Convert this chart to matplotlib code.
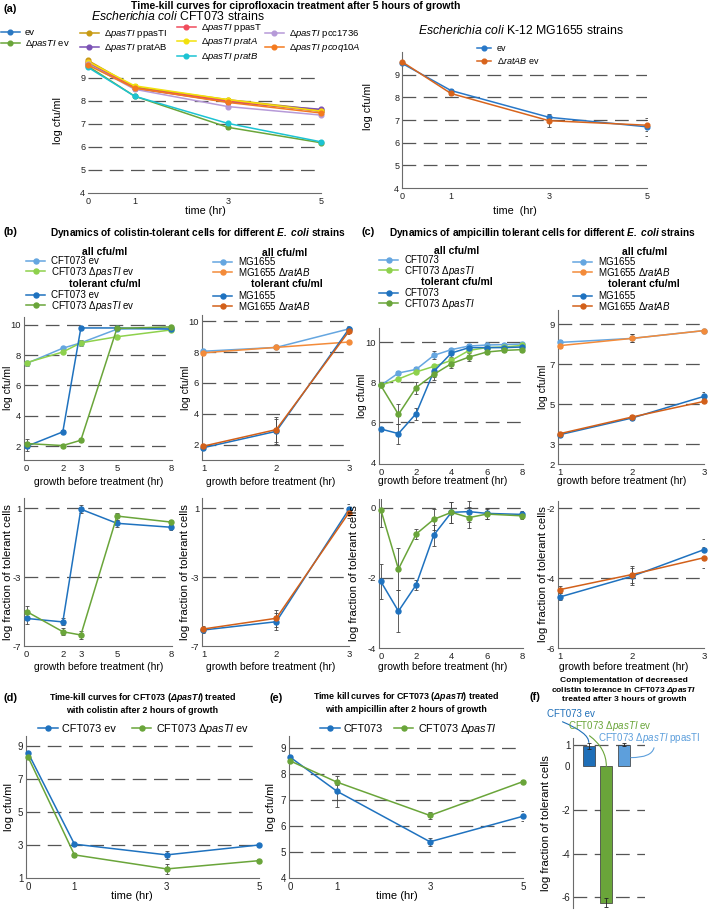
import matplotlib
matplotlib.use('Agg')
import matplotlib.pyplot as plt

plt.rcParams['font.family'] = ['Liberation Sans', 'DejaVu Sans']
plt.rcParams['mathtext.fontset'] = 'custom'
plt.rcParams['mathtext.rm'] = 'Liberation Sans'
plt.rcParams['mathtext.it'] = 'Liberation Sans:italic'
plt.rcParams['mathtext.bf'] = 'Liberation Sans:bold'
plt.rcParams['mathtext.bfit'] = 'Liberation Sans:italic:bold'
plt.rcParams['axes.unicode_minus'] = False

W, H = 709, 911

# ---- (a) ciprofloxacin time-kill, CFT073 strains
cip_time = [0, 1, 3, 5]
cip_ev = [9.6, 8.55, 8.0, 7.55]
cip_dpasTI_ev = [9.5, 8.2, 6.85, 6.18]
cip_ppasTI = [9.75, 8.6, 8.05, 7.6]
cip_pratAB = [9.65, 8.55, 7.95, 7.63]
cip_ppasT = [9.7, 8.55, 8.0, 7.55]
cip_pratA = [9.7, 8.65, 8.05, 7.55]
cip_pratB = [9.45, 8.2, 7.02, 6.22]
cip_pcc1736 = [9.6, 8.5, 7.75, 7.38]
cip_pcoq10A = [9.55, 8.55, 7.93, 7.47]
# (a) MG1655 strains
cip_mg_ev = [9.5, 8.3, 7.12, 6.7]
cip_mg_ev_err = [0.05, 0.05, 0.05, 0.4]
cip_mg_ratAB = [9.57, 8.17, 6.97, 6.77]
cip_mg_ratAB_err = [0.05, 0.08, 0.3, 0.25]

# ---- (b) colistin
col_cft_hr = [0, 2, 3, 5, 8]
col_cft_all_ev = [7.45, 8.45, 8.8, 9.7, 9.75]
col_cft_all_dp = [7.5, 8.2, 8.8, 9.2, 9.65]
col_cft_tol_ev = [2.0, 2.95, 9.78, 9.78, 9.7]
col_cft_tol_dp = [2.18, 2.05, 2.4, 9.75, 9.85]
col_cft_tol_err = [0.3, 0.1, 0.1, 0.1, 0.15]
col_cft_frac_ev = [-5.4, -5.6, 0.95, 0.13, -0.1]
col_cft_frac_dp = [-5.0, -6.17, -6.36, 0.55, 0.2]
col_cft_frac_err = [0.3, 0.2, 0.25, 0.2, 0.15]
col_mg_hr = [1, 2, 3]
col_mg_all_wt = [8.05, 8.3, 9.5]
col_mg_all_rat = [7.95, 8.3, 8.65]
col_mg_tol_wt = [1.8, 2.86, 9.5]
col_mg_tol_rat = [1.9, 2.97, 9.35]
col_mg_tol_err = [0.1, 0.8, 0.2]
col_mg_frac_wt = [-6.07, -5.59, 0.95]
col_mg_frac_rat = [-6.01, -5.39, 0.75]
col_mg_frac_err = [0.2, 0.5, 0.3]

# ---- (c) ampicillin
amp_cft_hr = [0, 1, 2, 3, 4, 5, 6, 7, 8]
amp_cft_all_wt = [7.83, 8.45, 8.63, 9.33, 9.62, 9.8, 9.85, 9.87, 9.9]
amp_cft_all_dp = [7.83, 8.15, 8.5, 8.78, 9.08, 9.58, 9.72, 9.75, 9.83]
amp_cft_tol_wt = [5.65, 5.42, 6.42, 8.53, 9.45, 9.72, 9.72, 9.72, 9.75]
amp_cft_tol_dp = [7.83, 6.38, 7.72, 8.38, 8.92, 9.25, 9.5, 9.58, 9.62]
amp_cft_tol_err = [0.1, 0.5, 0.3, 0.3, 0.2, 0.2, 0.1, 0.1, 0.1]
amp_frac_hr = [0, 1, 2, 3, 4, 5, 6, 8]
amp_cft_frac_wt = [-2.1, -2.95, -2.2, -0.78, -0.13, -0.11, -0.16, -0.19]
amp_cft_frac_dp = [-0.05, -1.75, -0.75, -0.33, -0.13, -0.28, -0.18, -0.23]
amp_cft_frac_err = [0.5, 0.6, 0.15, 0.3, 0.3, 0.3, 0.15, 0.1]
amp_mg_hr = [1, 2, 3]
amp_mg_all_wt = [8.08, 8.28, 8.67]
amp_mg_all_rat = [7.92, 8.28, 8.67]
amp_mg_tol_wt = [3.47, 4.3, 5.38]
amp_mg_tol_rat = [3.52, 4.35, 5.13]
amp_mg_frac_wt = [-4.54, -3.95, -3.19]
amp_mg_frac_rat = [-4.33, -3.9, -3.42]
amp_mg_frac_err = [0.1, 0.25, 0.3]

# ---- (d) colistin time-kill after 2 h
cst_time = [0, 1, 3, 5]
cst_ev = [8.55, 3.05, 2.4, 3.0]
cst_ev_err = [0.05, 0.1, 0.25, 0.05]
cst_dp = [8.3, 2.4, 1.55, 2.05]
cst_dp_err = [0.05, 0.1, 0.3, 0.1]

# ---- (e) ampicillin time-kill after 2 h
amk_time = [0, 1, 3, 5]
amk_wt = [8.63, 7.33, 5.39, 6.37]
amk_wt_err = [0.05, 0.6, 0.15, 0.2]
amk_dp = [8.49, 7.68, 6.4, 7.7]
amk_dp_err = [0.05, 0.1, 0.15, 0.05]

# ---- (f) complementation
comp_vals = [0.93, -6.25, 1.0]
comp_err = [0.12, 0.22, 0.05]

DP = r'$\mathit{ΔpasTI}$'
BLUE = '#1f72bf'
GREEN = '#6aa53a'
LBLUE = '#65a6e0'
LGREEN = '#8ed14c'
DORANGE = '#d2601a'
LORANGE = '#f38b3a'
GRID = '#555555'
AXC = '#6b6b6b'
ERR = '#444444'

fig = plt.figure(figsize=(W / 100, H / 100), dpi=100)


def px_ax(l, t, r, b):
    return fig.add_axes([l / W, 1 - b / H, (r - l) / W, (b - t) / H])


def fx(x):
    return x / W


def fy(y):
    return 1 - y / H


def frame(ax, xlim, ylim, xticks, yticks, grid, size=6.8, left=True):
    ax.set_xlim(*xlim)
    ax.set_ylim(*ylim)
    ax.set_xticks(xticks)
    ax.set_yticks(yticks)
    ax.set_yticklabels([f'{v:g}' for v in yticks])
    for g in grid:
        ax.axhline(g, color=GRID, lw=0.9, ls=(0, (11, 6)), zorder=0)
    for s in ['top', 'right']:
        ax.spines[s].set_visible(False)
    for s in ['left', 'bottom']:
        ax.spines[s].set_color(AXC)
        ax.spines[s].set_linewidth(0.8)
    ax.spines['left'].set_visible(left)
    ax.tick_params(length=0, labelsize=size, colors='#222222')
    ax.tick_params(axis='y', pad=2)
    ax.tick_params(axis='x', pad=3)
    ax.patch.set_alpha(0)


def labels(ax, xl, xpos, yl, ypos, size=7.5, ysize=None):
    if xl:
        ax.set_xlabel(xl, fontsize=size)
        ax.xaxis.set_label_coords(fx(xpos[0]), fy(xpos[1]), transform=fig.transFigure)
    if yl:
        ax.set_ylabel(yl, fontsize=ysize or size)
        ax.yaxis.set_label_coords(fx(ypos[0]), fy(ypos[1]), transform=fig.transFigure)
        ax.yaxis.label.set_va('center')


def curve(ax, x, y, color, err=None, lw=1.1, ms=3.6):
    if err is not None:
        ax.errorbar(x, y, yerr=err, fmt='none', ecolor=ERR, elinewidth=0.6,
                    capsize=1.4, capthick=0.6, zorder=2)
    line, = ax.plot(x, y, color=color, lw=lw, marker='o', ms=ms, clip_on=False, zorder=3)
    return line


def key(handles, texts, x, y, size=7.0, ncol=1, hl=2.0, pad=0.6, sp=-0.12, colsp=1.0):
    return fig.legend(handles, texts, loc='upper left', bbox_to_anchor=(fx(x), fy(y)),
                      frameon=False, fontsize=size, handlelength=hl, handletextpad=pad,
                      labelspacing=sp, borderpad=0, borderaxespad=0, ncol=ncol,
                      columnspacing=colsp)


# ================= (a) =================
fig.text(fx(3), fy(9), '(a)', fontsize=7.8, weight='bold', va='center')
fig.text(fx(296), fy(6), 'Time-kill curves for ciprofloxacin treatment after 5 hours of growth',
         fontsize=7.5, weight='bold', ha='center', va='center')
fig.text(fx(178), fy(16), r'$\mathit{Escherichia\ coli}$ CFT073 strains', fontsize=8.8,
         ha='center', va='center')
fig.text(fx(521), fy(31), r'$\mathit{Escherichia\ coli}$ K-12 MG1655 strains', fontsize=8.8,
         ha='center', va='center')

ax = px_ax(88, 57, 321, 193)
frame(ax, (0, 5), (4, 9.9), [0, 1, 3, 5], [4, 5, 6, 7, 8, 9], [5, 6, 7, 8, 9], size=6.5, left=False)
labels(ax, 'time (hr)', (205, 206), 'log cfu/ml', (58, 121), size=7.8)
series = [(cip_ev, '#2a78c2'), (cip_dpasTI_ev, '#6aa53a'), (cip_ppasTI, '#c89b12'),
          (cip_pratAB, '#7b52b5'), (cip_ppasT, '#f04c5c'), (cip_pratA, '#f2e10c'),
          (cip_pratB, '#1cc3d3'), (cip_pcc1736, '#b69ad8'), (cip_pcoq10A, '#f47a1f')]
h = [curve(ax, cip_time, s, c, err=[0.05, 0.08, 0.06, 0.06], ms=3.4) for s, c in series]
key(h[0:2], ['ev', DP + ' ev'], 1, 28, size=6.8, hl=2.0, sp=0.15, pad=0.5)
key(h[2:4], [DP + ' ppasTI', DP + ' pratAB'], 80, 28, size=6.8, hl=2.0, sp=0.15, pad=0.5)
key(h[4:7], [DP + ' ppasT', DP + r' $\mathit{pratA}$', DP + r' $\mathit{pratB}$'], 177, 22,
    size=6.8, hl=2.0, sp=0.15, pad=0.5)
key(h[7:9], [DP + ' pcc1736', DP + r' $\mathit{pcoq10A}$'], 265, 28, size=6.8, hl=2.0,
    sp=0.15, pad=0.5)

ax = px_ax(402, 52, 647, 188)
frame(ax, (0, 5), (4, 10), [0, 1, 3, 5], [4, 5, 6, 7, 8, 9], [5, 6, 7, 8, 9], size=6.5)
labels(ax, 'time  (hr)', (515, 206), 'log cfu/ml', (368, 107), size=7.8)
h1 = curve(ax, cip_time, cip_mg_ev, '#2878c8', err=cip_mg_ev_err, ms=3.4)
h2 = curve(ax, cip_time, cip_mg_ratAB, '#d8641c', err=cip_mg_ratAB_err, ms=3.4)
key([h1, h2], ['ev', r'$\mathit{ΔratAB}$ ev'], 477, 44, size=6.5, hl=1.6, sp=0.2)

# ================= (b) =================
fig.text(fx(3), fy(232), '(b)', fontsize=7.8, weight='bold', va='center')
fig.text(fx(198), fy(233), r'Dynamics of colistin-tolerant cells for different $\mathbfit{E.\ coli}$ strains',
         fontsize=7.3, weight='bold', ha='center', va='center')
XB = 'growth before treatment (hr)'
FR = 'log fraction of tolerant cells'

# left top
ax = px_ax(24, 317, 172, 460)
frame(ax, (-0.15, 8.05), (1.1, 10.5), col_cft_hr, [2, 4, 6, 8, 10], [2, 4, 6, 8, 10])
labels(ax, XB, (99, 477), 'log cfu/ml', (8, 388))
ha = curve(ax, col_cft_hr, col_cft_all_ev, LBLUE, err=[0.15, 0.1, 0.2, 0.1, 0.1])
hb = curve(ax, col_cft_hr, col_cft_all_dp, LGREEN)
hc = curve(ax, col_cft_hr, col_cft_tol_ev, BLUE, err=col_cft_tol_err)
hd = curve(ax, col_cft_hr, col_cft_tol_dp, GREEN, err=col_cft_tol_err)
fig.text(fx(105), fy(252), 'all cfu/ml', fontsize=7.5, weight='bold', ha='center', va='center')
fig.text(fx(105), fy(284), 'tolerant cfu/ml', fontsize=7.5, weight='bold', ha='center', va='center')
key([ha, hb], ['CFT073 ev', 'CFT073 ' + DP + ' ev'], 26, 256)
key([hc, hd], ['CFT073 ev', 'CFT073 ' + DP + ' ev'], 26, 290)

# left bottom
ax = px_ax(24, 498, 172, 646)
frame(ax, (-0.15, 8.05), (-7, 1.6), col_cft_hr, [-7, -3, 1], [-3, 1])
labels(ax, XB, (99, 662), FR, (8, 572), ysize=8.2)
curve(ax, col_cft_hr, col_cft_frac_ev, BLUE, err=col_cft_frac_err)
curve(ax, col_cft_hr, col_cft_frac_dp, GREEN, err=col_cft_frac_err)

# right top
ax = px_ax(202, 315, 349, 460)
frame(ax, (0.98, 3.0), (1.0, 10.4), col_mg_hr, [2, 4, 6, 8, 10], [2, 4, 6, 8, 10])
labels(ax, XB, (271, 477), 'log cfu/ml', (186, 388))
ha = curve(ax, col_mg_hr, col_mg_all_wt, LBLUE, err=[0.1, 0.1, 0.1])
hb = curve(ax, col_mg_hr, col_mg_all_rat, LORANGE, err=[0.1, 0.1, 0.05])
hc = curve(ax, col_mg_hr, col_mg_tol_wt, BLUE, err=col_mg_tol_err)
hd = curve(ax, col_mg_hr, col_mg_tol_rat, DORANGE, err=col_mg_tol_err)
fig.text(fx(285), fy(253), 'all cfu/ml', fontsize=7.5, weight='bold', ha='center', va='center')
fig.text(fx(287), fy(284), 'tolerant cfu/ml', fontsize=7.5, weight='bold', ha='center', va='center')
key([ha, hb], ['MG1655', r'MG1655 $\mathit{ΔratAB}$'], 213, 257)
key([hc, hd], ['MG1655', r'MG1655 $\mathit{ΔratAB}$'], 213, 291)

# right bottom
ax = px_ax(202, 498, 349, 646)
frame(ax, (0.98, 3.0), (-7, 1.6), col_mg_hr, [-7, -3, 1], [-3, 1])
labels(ax, XB, (271, 662), FR, (185, 572), ysize=8.2)
curve(ax, col_mg_hr, col_mg_frac_wt, BLUE, err=col_mg_frac_err)
curve(ax, col_mg_hr, col_mg_frac_rat, DORANGE, err=col_mg_frac_err)

# ================= (c) =================
fig.text(fx(362), fy(232), '(c)', fontsize=7.8, weight='bold', va='center')
fig.text(fx(542), fy(233), r'Dynamics of ampicillin tolerant cells for different $\mathbfit{E.\ coli}$ strains',
         fontsize=7.3, weight='bold', ha='center', va='center')

ax = px_ax(379, 328, 523, 464)
frame(ax, (-0.1, 8.05), (3.9, 10.7), [0, 2, 4, 6, 8], [4, 6, 8, 10], [6, 8, 10])
labels(ax, XB, (443, 476), 'log cfu/ml', (362, 396))
ha = curve(ax, amp_cft_hr, amp_cft_all_wt, LBLUE, err=[0.1, 0.1, 0.1, 0.2, 0.1, 0.1, 0.1, 0.1, 0.1])
hb = curve(ax, amp_cft_hr, amp_cft_all_dp, LGREEN)
hc = curve(ax, amp_cft_hr, amp_cft_tol_wt, BLUE, err=amp_cft_tol_err)
hd = curve(ax, amp_cft_hr, amp_cft_tol_dp, GREEN, err=amp_cft_tol_err)
fig.text(fx(457), fy(251), 'all cfu/ml', fontsize=7.5, weight='bold', ha='center', va='center')
fig.text(fx(457), fy(282), 'tolerant cfu/ml', fontsize=7.5, weight='bold', ha='center', va='center')
key([ha, hb], ['CFT073', 'CFT073 ' + DP], 379, 255)
key([hc, hd], ['CFT073', 'CFT073 ' + DP], 379, 288)

ax = px_ax(379, 499, 523, 648)
frame(ax, (-0.1, 8.05), (-4, 0.25), [0, 2, 4, 6, 8], [-4, -2, 0], [-2, 0])
labels(ax, XB, (443, 662), FR, (354, 573), ysize=8.2)
curve(ax, amp_frac_hr, amp_cft_frac_wt, BLUE, err=amp_cft_frac_err)
curve(ax, amp_frac_hr, amp_cft_frac_dp, GREEN, err=amp_cft_frac_err)

ax = px_ax(558, 310, 704, 464)
frame(ax, (0.97, 3.0), (2, 9.7), amp_mg_hr, [2, 3, 5, 7, 9], [3, 5, 7, 9])
labels(ax, XB, (622, 476), 'log cfu/ml', (543, 387))
ha = curve(ax, amp_mg_hr, amp_mg_all_wt, LBLUE, err=[0.1, 0.2, 0.05])
hb = curve(ax, amp_mg_hr, amp_mg_all_rat, LORANGE, err=[0.1, 0.2, 0.05])
hc = curve(ax, amp_mg_hr, amp_mg_tol_wt, BLUE, err=[0.1, 0.1, 0.2])
hd = curve(ax, amp_mg_hr, amp_mg_tol_rat, DORANGE, err=[0.1, 0.1, 0.1])
fig.text(fx(645), fy(252), 'all cfu/ml', fontsize=7.5, weight='bold', ha='center', va='center')
fig.text(fx(644), fy(284), 'tolerant cfu/ml', fontsize=7.5, weight='bold', ha='center', va='center')
key([ha, hb], ['MG1655', r'MG1655 $\mathit{ΔratAB}$'], 573, 257)
key([hc, hd], ['MG1655', r'MG1655 $\mathit{ΔratAB}$'], 573, 291)

ax = px_ax(558, 501, 704, 648)
frame(ax, (0.97, 3.0), (-6, -1.8), amp_mg_hr, [-6, -4, -2], [-4, -2])
labels(ax, XB, (624, 662), FR, (543, 574), ysize=8.2)
curve(ax, amp_mg_hr, amp_mg_frac_wt, BLUE, err=amp_mg_frac_err)
curve(ax, amp_mg_hr, amp_mg_frac_rat, DORANGE, err=amp_mg_frac_err)

# ================= (d) =================
fig.text(fx(3), fy(698), '(d)', fontsize=7.8, weight='bold', va='center')
fig.text(fx(142), fy(703),
         'Time-kill curves for CFT073 (' + r'$\mathbfit{ΔpasTI}$' + ') treated\nwith colistin after 2 hours of growth',
         fontsize=6.4, weight='bold', ha='center', va='center', linespacing=1.3)
ax = px_ax(26, 736, 259, 878)
frame(ax, (-0.05, 5.0), (1, 9.6), cst_time, [1, 3, 5, 7, 9], [3, 5, 7, 9], size=7)
labels(ax, 'time (hr)', (132, 891), 'log cfu/ml', (9, 807), size=8)
h1 = curve(ax, cst_time, cst_ev, BLUE, err=cst_ev_err)
h2 = curve(ax, cst_time, cst_dp, GREEN, err=cst_dp_err)
key([h1, h2], ['CFT073 ev', 'CFT073 ' + DP + ' ev'], 38, 722, size=7.8, ncol=2, hl=1.8,
    pad=0.4, colsp=1.5, sp=0.1)

# ================= (e) =================
fig.text(fx(270), fy(698), '(e)', fontsize=7.8, weight='bold', va='center')
fig.text(fx(406), fy(702),
         'Time kill curves for CFT073 (' + r'$\mathbfit{ΔpasTI}$' + ') treated\nwith ampicillin after 2 hours of growth',
         fontsize=6.4, weight='bold', ha='center', va='center', linespacing=1.3)
ax = px_ax(289, 736, 523, 878)
frame(ax, (-0.03, 5.0), (4, 9.45), amk_time, [4, 5, 6, 7, 8, 9], [5, 6, 7, 8, 9], size=7)
labels(ax, 'time (hr)', (397, 891), 'log cfu/ml', (271, 807), size=8)
h1 = curve(ax, amk_time, amk_wt, BLUE, err=amk_wt_err)
h2 = curve(ax, amk_time, amk_dp, GREEN, err=amk_dp_err)
key([h1, h2], ['CFT073', 'CFT073 ' + DP], 320, 722, size=7.8, ncol=2, hl=1.8, pad=0.4,
    colsp=1.0, sp=0.1)

# ================= (f) =================
fig.text(fx(530), fy(697), '(f)', fontsize=7.8, weight='bold', va='center')
fig.text(fx(624), fy(690),
         'Complementation of decreased\ncolistin tolerance in CFT073 ' + r'$\mathbfit{ΔpasTI}$'
         + '\ntreated after 3 hours of growth',
         fontsize=6.1, weight='bold', ha='center', va='center', linespacing=1.15)
ax = px_ax(573, 738, 645, 908)
frame(ax, (-0.9, 3.2), (-6.5, 1.3), [], [-6, -4, -2, 0, 1], [-6, -4, -2, 1], size=7)
ax.spines['bottom'].set_visible(False)
labels(ax, None, None, FR, (546, 823), ysize=8.2)
bar_colors = ['#1f6fb8', '#6aa53a', '#5d9fdc']
ax.bar([0, 1, 2], comp_vals, width=0.67, color=bar_colors, edgecolor='#333333', lw=0.5,
       yerr=comp_err, error_kw=dict(ecolor='#222222', elinewidth=0.6, capsize=1.5, capthick=0.6),
       zorder=2)
ax.annotate('CFT073 ev', xy=(0, 1.1), xytext=(fx(547), fy(714)), textcoords='figure fraction',
            color=bar_colors[0], fontsize=7.0, va='center', annotation_clip=False,
            arrowprops=dict(arrowstyle='-', color=bar_colors[0], lw=0.8, relpos=(0.12, 0.1),
                            connectionstyle='angle3,angleA=-20,angleB=90', shrinkA=0, shrinkB=0))
ax.annotate('CFT073 ' + DP + ' ev', xy=(1, 0.0), xytext=(fx(568), fy(726)),
            textcoords='figure fraction', color=bar_colors[1], fontsize=7.0, va='center',
            annotation_clip=False,
            arrowprops=dict(arrowstyle='-', color=bar_colors[1], lw=0.8, relpos=(0.18, 0.1),
                            connectionstyle='angle3,angleA=-30,angleB=90', shrinkA=0, shrinkB=0))
ax.annotate('CFT073 ' + DP + ' ppasTI', xy=(2.4, 0.4), xytext=(fx(598), fy(738)),
            textcoords='figure fraction', color=bar_colors[2], fontsize=7.0, va='center',
            annotation_clip=False,
            arrowprops=dict(arrowstyle='-', color=bar_colors[2], lw=0.8, relpos=(0.55, 0.0),
                            connectionstyle='angle3,angleA=-90,angleB=0', shrinkA=0, shrinkB=0))

fig.savefig('out.png', dpi=100)
